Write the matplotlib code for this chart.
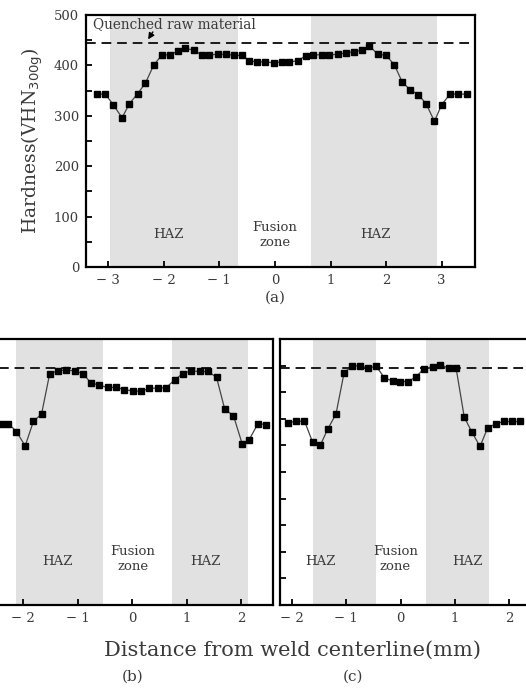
import matplotlib
matplotlib.use("Agg")
import matplotlib.pyplot as plt
import numpy as np

plt.rcParams['font.family'] = 'DejaVu Serif'

# ---- data ----
# (a)
xa = [-3.20, -3.05, -2.91, -2.75, -2.62, -2.47, -2.33, -2.18, -2.03, -1.89, -1.75, -1.61,
      -1.46, -1.32, -1.18, -1.03, -0.88, -0.74, -0.59, -0.46, -0.32, -0.17, -0.02, 0.13,
      0.26, 0.41, 0.55, 0.68, 0.84, 0.98, 1.13, 1.28, 1.42, 1.56, 1.70, 1.85, 2.00, 2.15,
      2.29, 2.43, 2.58, 2.72, 2.87, 3.00, 3.15, 3.29, 3.45]
ya = [343, 343, 322, 296, 324, 344, 365, 401, 421, 421, 428, 434,
      430, 421, 421, 422, 422, 420, 420, 409, 407, 407, 405, 407,
      407, 409, 419, 421, 421, 421, 422, 425, 427, 430, 439, 422, 420, 401,
      367, 352, 342, 324, 289, 322, 343, 343, 343]
haz_a = [(-2.97, -0.665), (0.655, 2.92)]

# (b)
xb = [-2.39, -2.27, -2.12, -1.96, -1.81, -1.66, -1.51, -1.36, -1.21, -1.05, -0.90, -0.76,
      -0.60, -0.45, -0.29, -0.14, 0.02, 0.17, 0.32, 0.47, 0.62, 0.78, 0.93, 1.08,
      1.24, 1.39, 1.55, 1.70, 1.86, 2.02, 2.15, 2.31, 2.46]
yb = [340, 341, 326, 299, 345, 359, 435, 440, 442, 440, 435, 418,
      413, 409, 409, 405, 402, 402, 407, 408, 408, 423, 435, 440,
      439, 439, 428, 368, 356, 303, 311, 341, 339]
haz_b = [(-2.13, -0.53), (0.74, 2.12)]

# (c)
xc = [-2.07, -1.92, -1.77, -1.62, -1.48, -1.34, -1.19, -1.04, -0.89, -0.74, -0.60, -0.45,
      -0.30, -0.15, -0.01, 0.14, 0.28, 0.43, 0.59, 0.73, 0.88, 1.02, 1.17, 1.31,
      1.46, 1.60, 1.76, 1.90, 2.05, 2.20]
yc = [343, 345, 346, 306, 300, 331, 359, 437, 449, 450, 445, 449,
      427, 421, 420, 420, 429, 444, 448, 451, 446, 445, 353, 325,
      298, 333, 341, 345, 345, 345]
haz_c = [(-1.61, -0.46), (0.47, 1.62)]

quenched = 445

W, H = 526, 690
fig = plt.figure(figsize=(W / 100, H / 100), dpi=100)


def px_axes(left, top, right, bottom):
    return fig.add_axes([left / W, 1 - bottom / H, (right - left) / W, (bottom - top) / H])


txt_col = '#3a3a3a'


def style(ax, xlim, xticks, show_ylabels):
    ax.set_xlim(*xlim)
    ax.set_ylim(0, 500)
    ax.set_xticks(xticks)
    ax.set_xticklabels([('\u2212 ' + str(abs(t))) if t < 0 else str(t) for t in xticks])
    ax.set_yticks(np.arange(0, 501, 50))
    if show_ylabels:
        ax.set_yticklabels([str(v) if v % 100 == 0 else '' for v in range(0, 501, 50)])
    else:
        ax.set_yticklabels([])
    ax.tick_params(direction='in', length=4, width=1.3, labelsize=9.5,
                   labelcolor=txt_col, pad=5)
    for s in ax.spines.values():
        s.set_linewidth(1.6)


def draw(ax, x, y, haz):
    for a, b in haz:
        ax.axvspan(a, b, color='#e1e1e1', lw=0, zorder=0)
    ax.axhline(quenched, color='#1a1a1a', lw=1.4, ls=(0, (5, 3)), zorder=2, clip_on=False)
    ax.plot(x, y, '-', color='#444444', lw=0.9, marker='s', ms=4.4,
            mfc='black', mec='black', zorder=3)


def zone_labels(ax, haz, fz_x, y_haz=65, y_fz=63):
    for (a, b), xo in zip(haz, fz_x[1:]):
        ax.text(xo, y_haz, 'HAZ', ha='center', va='center', fontsize=9.5, color=txt_col)
    ax.text(fz_x[0], y_fz, 'Fusion\nzone', ha='center', va='center', fontsize=9.5,
            color=txt_col, linespacing=1.25)


# (a)
ax_a = px_axes(86, 15, 475, 267)
draw(ax_a, xa, ya, haz_a)
style(ax_a, (-3.4, 3.6), [-3, -2, -1, 0, 1, 2, 3], True)
zone_labels(ax_a, haz_a, [0.0, -1.92, 1.81])
ax_a.text(-3.28, 482, 'Quenched raw material', fontsize=9.8, color=txt_col, va='center')
ax_a.annotate('', xy=(-2.31, 447), xytext=(-2.17, 471),
              arrowprops=dict(arrowstyle='-|>', color='black', lw=1.0, mutation_scale=9))
ax_a.set_ylabel('Hardness(VHN$_{300\\mathrm{g}}$)', fontsize=13.5, color=txt_col, labelpad=6)
fig.text(275 / W, 1 - 298 / H, '(a)', ha='center', va='center', fontsize=11, color=txt_col)

# (b)
ax_b = px_axes(-9.7, 339, 272.7, 605)
draw(ax_b, xb, yb, haz_b)
style(ax_b, (-2.6, 2.58), [-2, -1, 0, 1, 2], False)
zone_labels(ax_b, haz_b, [0.01, -1.37, 1.35], y_haz=81, y_fz=86)

# (c)
ax_c = px_axes(280, 339, 542, 605)
draw(ax_c, xc, yc, haz_c)
style(ax_c, (-2.22, 2.6), [-2, -1, 0, 1, 2], False)
zone_labels(ax_c, haz_c, [-0.10, -1.48, 1.22], y_haz=81, y_fz=86)

fig.text(293 / W, 1 - 650 / H, 'Distance from weld centerline(mm)', ha='center',
         va='center', fontsize=15, color=txt_col)
fig.text(133 / W, 1 - 677 / H, '(b)', ha='center', va='center', fontsize=11, color=txt_col)
fig.text(353 / W, 1 - 677 / H, '(c)', ha='center', va='center', fontsize=11, color=txt_col)

fig.savefig('out.png', dpi=100)
